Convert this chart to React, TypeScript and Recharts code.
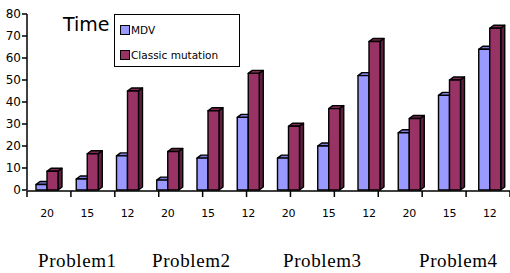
import { BarChart, Bar, XAxis, YAxis, Legend } from 'recharts';

// x tick labels (mutation rate setting), 3 per problem
const categories = ['20', '15', '12', '20', '15', '12', '20', '15', '12', '20', '15', '12'];
const mdvValues = [2.5, 5, 15.5, 4.5, 14.5, 33, 14.5, 20, 52, 26, 43, 64];
const classicValues = [8.5, 16.5, 45, 17.5, 36, 53, 29, 37, 67.5, 32.5, 50, 73.5];
const seriesOrder = ['MDV', 'Classic mutation'];
const problems = ['Problem1', 'Problem2', 'Problem3', 'Problem4'];
const yTicks = [0, 10, 20, 30, 40, 50, 60, 70, 80];
const edgeTicks = [0, 1, 2, 3, 4, 5, 6, 7, 8, 9, 10, 11, 12];

const data = categories.map((c, i) => ({ cat: i, label: c, mdv: mdvValues[i], classic: classicValues[i] }));

const SANS = '"DejaVu Sans", sans-serif';
const SERIF = '"Liberation Serif", "Times New Roman", serif';

const shades: Record<string, { top: string; side: string }> = {
    '#9999ff': { top: '#7b7bd6', side: '#6666aa' },
    '#993366': { top: '#7d2a54', side: '#5e1f3f' },
};

// Excel-style 3d column: front face, top face, right side face
const Bar3D = (props: any) => {
    const { x, y, width, height, fill } = props;
    if (width == null || height == null) return null;
    const d = 4;
    const e = 3;
    const s = shades[fill] ?? { top: fill, side: fill };
    return (
        <g stroke="#000" strokeWidth={1.4} strokeLinejoin="round">
            <polygon
                points={`${x},${y} ${x + d},${y - e} ${x + width + d},${y - e} ${x + width},${y}`}
                fill={s.top}
            />
            <polygon
                points={`${x + width},${y} ${x + width + d},${y - e} ${x + width + d},${y + height - e} ${x + width},${y + height}`}
                fill={s.side}
            />
            <rect x={x} y={y} width={width} height={height} fill={fill} />
        </g>
    );
};

const LegendBox = (props: any) => {
    const items = [...(props.payload || [])].sort(
        (a: any, b: any) => seriesOrder.indexOf(a.value) - seriesOrder.indexOf(b.value)
    );
    return (
        <div
            style={{
                border: '1.5px solid #000',
                width: 126,
                height: 53,
                boxSizing: 'border-box',
                background: '#fff',
                padding: '8px 0 0 5px',
                fontFamily: SANS,
                fontSize: 10.5,
                color: '#000',
                textAlign: 'left',
            }}
        >
            {items.map((p: any) => (
                <div key={p.value} style={{ display: 'flex', alignItems: 'center', height: 13, marginBottom: 12 }}>
                    <span
                        style={{
                            display: 'inline-block',
                            width: 8,
                            height: 8,
                            background: p.color,
                            border: '1.5px solid #000',
                            marginRight: 1,
                        }}
                    />
                    <span>{p.value}</span>
                </div>
            ))}
        </div>
    );
};

// edge axis: only the tick marks between categories, no labels
const NoLabel = () => <g />;

const problemLeft = [38, 152, 283, 419];

export default function App() {
    return (
        <div style={{ position: 'absolute', left: 0, top: 0, width: 510, height: 273, background: '#fff' }}>
            <BarChart
                width={510}
                height={273}
                data={data}
                margin={{ top: 14, right: 0, bottom: 81, left: 0 }}
                barSize={11}
                barGap={0}
            >
                <XAxis
                    xAxisId="edges"
                    type="number"
                    domain={[0, 12]}
                    ticks={edgeTicks}
                    tick={NoLabel}
                    interval={0}
                    height={1}
                    tickSize={6}
                    stroke="#000"
                    strokeWidth={1.5}
                    allowDataOverflow
                />
                <XAxis
                    dataKey="label"
                    height={1}
                    axisLine={false}
                    tickLine={false}
                    tickSize={0}
                    tickMargin={19}
                    interval={0}
                    tick={{ fill: '#000', fontSize: 11, fontFamily: SANS }}
                />
                <YAxis
                    domain={[0, 80]}
                    ticks={yTicks}
                    width={27}
                    tickSize={5}
                    tickMargin={1}
                    interval={0}
                    stroke="#000"
                    strokeWidth={1.5}
                    tick={{ fill: '#000', fontSize: 12, fontFamily: SANS }}
                />
                <Legend
                    content={LegendBox}
                    layout="vertical"
                    align="center"
                    verticalAlign="middle"
                    wrapperStyle={{ position: 'absolute', left: 114, top: 14, width: 126, height: 53 }}
                />
                <Bar dataKey="mdv" name="MDV" fill="#9999ff" shape={Bar3D} isAnimationActive={false} />
                <Bar dataKey="classic" name="Classic mutation" fill="#993366" shape={Bar3D} isAnimationActive={false} />
            </BarChart>
            <div
                style={{
                    position: 'absolute',
                    left: 63,
                    top: 13,
                    fontFamily: SANS,
                    fontSize: 19,
                    lineHeight: '22px',
                    color: '#000',
                }}
            >
                Time
            </div>
            {problems.map((p, i) => (
                <div
                    key={p}
                    style={{
                        position: 'absolute',
                        left: problemLeft[i],
                        top: 250,
                        fontFamily: SERIF,
                        fontSize: 19,
                        letterSpacing: 0.6,
                        lineHeight: '22px',
                        color: '#000',
                        whiteSpace: 'nowrap',
                    }}
                >
                    {p}
                </div>
            ))}
        </div>
    );
}
